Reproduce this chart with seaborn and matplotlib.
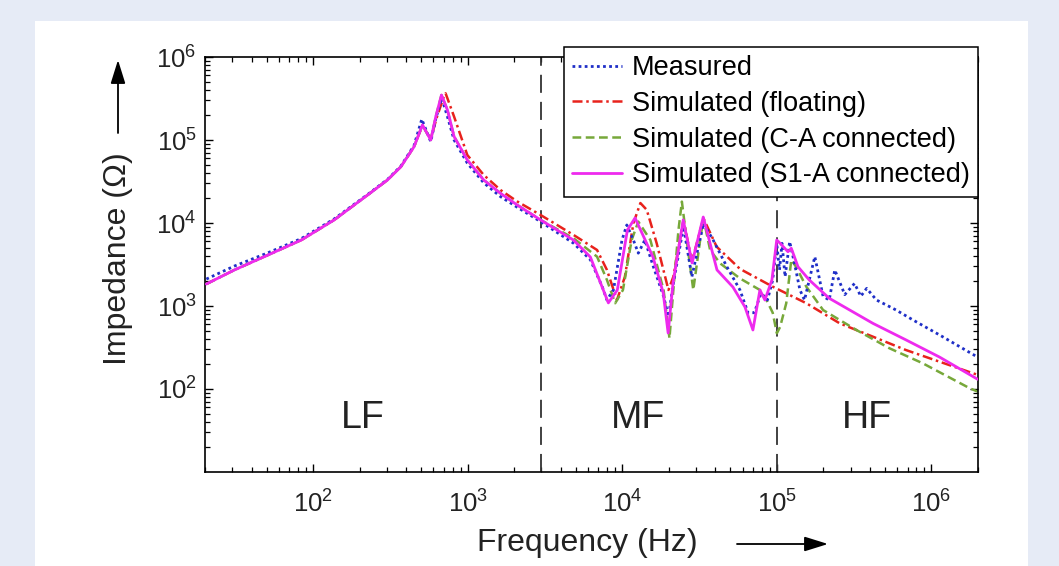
import numpy as np
import pandas as pd
import matplotlib
matplotlib.use("Agg")
import matplotlib.pyplot as plt
from matplotlib.patches import Rectangle, FancyArrowPatch
import seaborn as sns

# ---------------- data ----------------
lf_f = [20.4, 31, 51, 84, 137, 225, 303, 370, 450, 510, 577, 622, 677, 740, 817, 995, 1270, 1630, 2090, 2960]
lf_z = [1840, 2720, 4110, 6240, 10900, 21700, 33000, 47700, 83000, 152000, 100000, 191000, 348000, 230000, 110000, 57400, 33000, 22800, 16500, 10900]

meas_f = [20.4, 31, 51, 84, 137, 225, 303, 370, 450, 505, 577, 622, 680, 740, 817, 995, 1270, 1630, 2090, 2960,
          4850, 6220, 7420, 7960, 8770, 9960, 10700, 11800, 12700, 14000, 15900, 18500, 19900, 21400, 24900,
          28200, 33500, 38700, 47500, 57700, 65100, 71500, 78900, 86900, 94000,
          99800, 104000, 108000, 113000, 121000, 130000, 141000, 151000, 176000, 199000, 218000, 237000,
          275000, 318000, 349000, 381000, 441000, 510000, 590000, 758000, 1130000, 1990000]
meas_z = [2110, 3030, 4370, 6500, 11200, 22000, 33500, 48500, 86000, 178000, 95500, 180000, 320000, 191000, 100000, 52600, 30500, 20800, 15500, 10400,
          5690, 3600, 1710, 1180, 1560, 6240, 9470, 6240, 4330, 6240, 2970, 1310, 745, 1870, 9050,
          2250, 9900, 6240, 2970, 1560, 830, 830, 1420, 1180, 2060,
          5690, 2720, 5690, 2250, 5970, 3270, 1560, 1180, 3930, 1310, 1180, 2720,
          1370, 1870, 1310, 1630, 1180, 1030, 895, 680, 447, 242]

float_f = [20.4, 31, 51, 84, 137, 225, 303, 370, 450, 510, 577, 630, 700, 720, 817, 995, 1270, 1630, 2090, 2960,
           4850, 6870, 7960, 9240, 10400, 11800, 13100, 14400, 16700, 19900, 21400, 24900, 28200, 33500,
           40800, 57700, 94000, 155000, 255000, 418000, 683000, 1130000, 1990000]
float_z = [1840, 2720, 4110, 6240, 10900, 21700, 33000, 47700, 83000, 150000, 102000, 185000, 330000, 365000, 191000, 65900, 37900, 25000, 18200, 12500,
           7160, 4730, 2720, 1180, 2250, 9900, 17400, 14400, 5690, 1560, 2250, 10900, 3420, 11400,
           5170, 2800, 1710, 1080, 618, 427, 295, 213, 148]

ca_f = [20.4, 31, 51, 84, 137, 225, 303, 370, 450, 510, 577, 622, 677, 740, 817, 995, 1270, 1630, 2090, 2960,
        4850, 6870, 7960, 9000, 10100, 11500, 12700, 15200, 18500, 20200, 21400, 23100, 24300, 26100, 28800,
        31900, 33500, 37000, 42900, 57700, 77700, 85700, 94000, 100000, 105000, 115000, 124000, 133000,
        155000, 199000, 327000, 536000, 879000, 1770000, 1990000]
ca_z = [1840, 2720, 4110, 6240, 10900, 21700, 33000, 47700, 83000, 152000, 100000, 191000, 348000, 230000, 110000, 57400, 33000, 22800, 16500, 10900,
        6530, 3930, 2060, 1080, 1560, 6240, 10400, 6240, 1560, 408, 1560, 8240, 18100, 6240, 1560,
        6240, 11400, 4730, 3270, 2150, 1560, 1180, 830, 469, 560, 1080, 3600, 2970,
        1710, 895, 514, 309, 204, 102, 93]

s1a_f = lf_f + [4830, 6220, 7540, 8130, 9290, 10800, 12100, 15800, 18400, 19800, 21300, 24800, 28300, 33400,
                41000, 52000, 62200, 70000, 77700, 83700, 92900, 99800, 105000, 118000, 124000, 137000,
                162000, 218000, 418000, 683000, 1130000, 1990000]
s1a_z = lf_z + [6240, 3890, 1560, 1090, 1560, 8240, 11500, 3890, 1440, 473, 1890, 10900, 3300, 11800,
                2720, 1690, 973, 514, 1560, 1180, 2060, 6240, 5690, 4500, 4960, 2970,
                2060, 1240, 618, 391, 242, 131]

labels = ["Measured", "Simulated (floating)", "Simulated (C-A connected)", "Simulated (S1-A connected)"]
colors = ["#1f2fc8", "#e8221c", "#77a83a", "#ee2aee"]
region_labels = ["LF", "MF", "HF"]
region_x = [210, 12700, 382000]
region_y = 45
boundaries = [3000, 1e5]

# ---------------- figure ----------------
sns.set_theme(style="white")
plt.rcParams["font.family"] = ["Liberation Sans", "DejaVu Sans"]
plt.rcParams["mathtext.default"] = "regular"
txt = "#222222"

W, H = 1059, 566
fig = plt.figure(figsize=(W / 100, H / 100), dpi=100, facecolor="#e6ebf6")
fig.patches.append(Rectangle((35 / W, 0), (1028 - 35) / W, (566 - 21) / H,
                             transform=fig.transFigure, facecolor="white",
                             edgecolor="none", zorder=-10))
ax = fig.add_axes([205 / W, (H - 472) / H, (978 - 205) / W, (472 - 57) / H])
ax.set_facecolor("white")

series = [(meas_f, meas_z), (float_f, float_z), (ca_f, ca_z), (s1a_f, s1a_z)]
styles = [dict(linestyle=(0, (1, 1.2)), linewidth=2.0),
          dict(linestyle=(0, (4, 1.5, 1, 1.5)), linewidth=1.8),
          dict(linestyle=(0, (3.5, 1.8)), linewidth=1.8),
          dict(linestyle="-", linewidth=2.0)]
order_z = [3, 2, 2.5, 4]
for (f, z), lab, c, st, zo in zip(series, labels, colors, styles, order_z):
    df = pd.DataFrame({"f": f, "z": z})
    sns.lineplot(data=df, x="f", y="z", ax=ax, color=c, label=lab,
                 estimator=None, sort=False, zorder=zo, **st)

for b in boundaries:
    ax.axvline(b, color="#333333", linewidth=1.3, linestyle=(0, (10, 5)), zorder=1)

ax.set_xscale("log")
ax.set_yscale("log")
ax.set_xlim(20, 2e6)
ax.set_ylim(10, 1e6)
ax.set_xticks([1e2, 1e3, 1e4, 1e5, 1e6])
ax.set_yticks([1e2, 1e3, 1e4, 1e5, 1e6])
ax.set_xlabel("")
ax.set_ylabel("")
ax.tick_params(which="both", direction="in", top=True, right=True, bottom=True, left=True,
               colors="black", labelcolor=txt, labelsize=18.5)
ax.tick_params(which="major", length=6, width=1.0)
ax.tick_params(which="minor", length=3.5, width=0.9)
ax.tick_params(axis="x", which="major", pad=13)
ax.tick_params(axis="y", which="major", pad=6)
for s in ax.spines.values():
    s.set_color("black")
    s.set_linewidth(1.2)

for lab, x in zip(region_labels, region_x):
    ax.text(x, region_y, lab, fontsize=27, color=txt, ha="center", va="center")

leg = ax.legend(loc="upper right", bbox_to_anchor=(1.0, 1.0 + 10 / 415), borderaxespad=0,
                fontsize=19.5, frameon=True, fancybox=False, framealpha=1,
                handlelength=1.85, handletextpad=0.37, labelspacing=0.36, borderpad=0.3)
leg.get_frame().set_edgecolor("black")
leg.get_frame().set_linewidth(1.1)
for t in leg.get_texts():
    t.set_color("black")

# axis labels with arrows
fig.text(587 / W, (H - 543) / H, "Frequency (Hz)", fontsize=23, color=txt, ha="center", va="center")
fig.text(118 / W, (H - 259) / H, "Impedance (Ω)", fontsize=23, color=txt, ha="center", va="center",
         rotation=90)
arrow = dict(arrowstyle="-|>,head_length=0.8,head_width=0.25", color="black", lw=1.3,
             shrinkA=0, shrinkB=0)
fig.add_artist(FancyArrowPatch((737 / W, (H - 544) / H), (828 / W, (H - 544) / H),
                               transform=fig.transFigure, mutation_scale=18, **arrow))
fig.add_artist(FancyArrowPatch((118 / W, (H - 133) / H), (118 / W, (H - 60) / H),
                               transform=fig.transFigure, mutation_scale=18, **arrow))

fig.savefig("out.png", dpi=100, facecolor=fig.get_facecolor())
